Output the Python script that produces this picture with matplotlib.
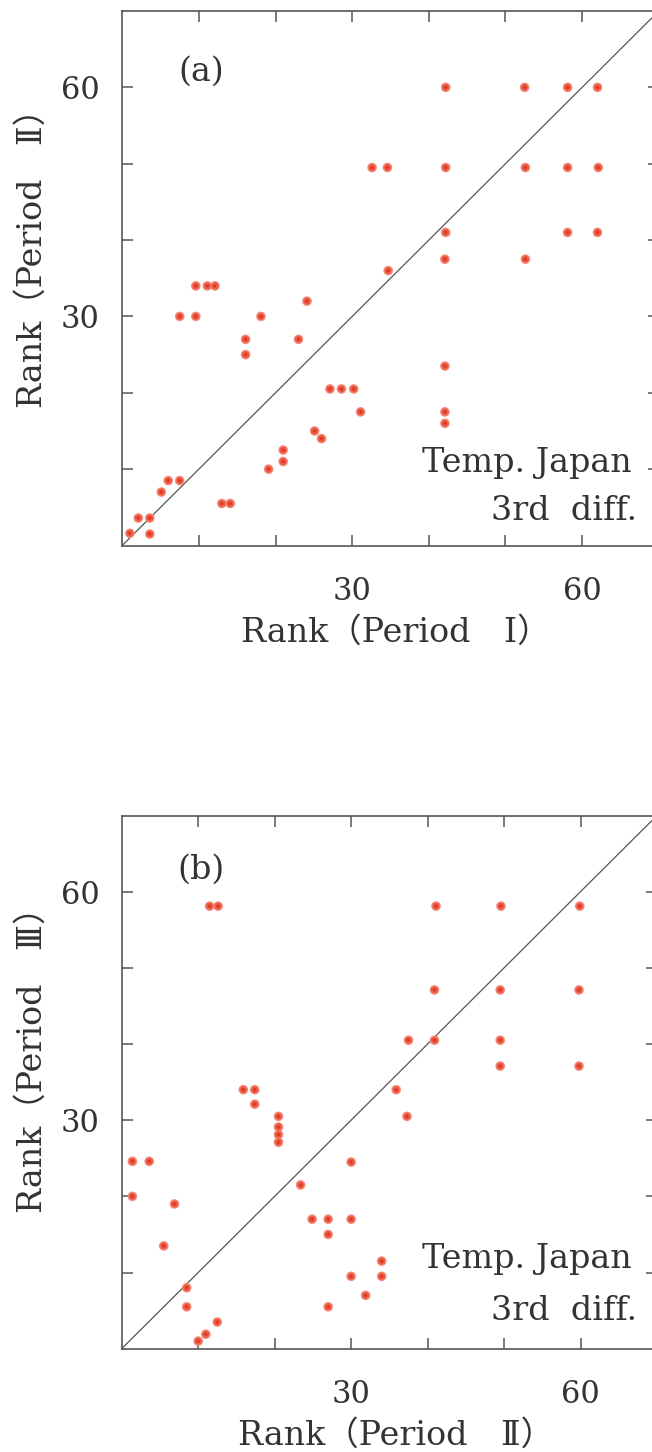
import matplotlib.pyplot as plt
import numpy as np

# panel (a): rank in period I vs period II
rank_a_x = [42.2, 52.5, 58.1, 62.0, 32.6, 34.6, 42.2, 52.6, 58.1, 62.1,
            42.2, 58.1, 62.0, 42.1, 52.6, 34.7, 9.6, 11.1, 12.1, 24.1,
            7.5, 9.6, 18.1, 16.1, 23.0, 16.1, 42.1, 27.1, 28.6, 30.2,
            31.1, 42.1, 42.1, 25.1, 26.0, 21.0, 21.0, 19.1, 6.0, 7.5,
            5.1, 13.0, 14.1, 2.1, 3.6, 1.0, 3.6]
rank_a_y = [60.0, 60.0, 60.0, 60.0, 49.5, 49.5, 49.5, 49.5, 49.5, 49.5,
            41.0, 41.0, 41.0, 37.5, 37.5, 36.0, 34.0, 34.0, 34.0, 32.0,
            30.0, 30.0, 30.0, 27.0, 27.0, 25.0, 23.5, 20.5, 20.5, 20.5,
            17.5, 17.5, 16.0, 15.0, 14.0, 12.5, 11.0, 10.0, 8.5, 8.5,
            7.0, 5.5, 5.5, 3.6, 3.6, 1.6, 1.5]

# panel (b): rank in period II vs period III
rank_b_x = [11.5, 12.6, 41.1, 49.6, 59.9, 40.9, 49.5, 59.8, 37.5, 40.9,
            49.5, 49.5, 59.8, 15.9, 17.4, 35.9, 17.4, 20.5, 37.3, 20.5,
            20.5, 20.5, 1.4, 3.6, 30.0, 23.4, 1.4, 6.9, 24.9, 27.0,
            30.0, 27.0, 5.5, 34.0, 30.0, 34.0, 31.9, 8.5, 8.5, 27.0,
            12.5, 11.0, 10.0]
rank_b_y = [58.1, 58.1, 58.1, 58.1, 58.1, 47.1, 47.1, 47.1, 40.5, 40.5,
            40.5, 37.1, 37.1, 34.0, 34.0, 34.0, 32.1, 30.5, 30.5, 29.1,
            28.1, 27.1, 24.6, 24.6, 24.5, 21.5, 20.0, 19.0, 17.0, 17.0,
            17.0, 15.0, 13.5, 11.5, 9.5, 9.5, 7.0, 8.0, 5.5, 5.5,
            3.5, 1.9, 1.0]

panels = [
    ('(a)', rank_a_x, rank_a_y, 'Rank（Period　Ⅰ）', 'Rank（Period　Ⅱ）'),
    ('(b)', rank_b_x, rank_b_y, 'Rank（Period　Ⅱ）', 'Rank（Period　Ⅲ）'),
]

ticks = [10, 20, 30, 40, 50, 60]
tick_labels = ['', '', '30', '', '', '60']

W, H = 652, 1452
fontfam = ['DejaVu Serif', 'Noto Sans CJK JP']
txtc = '#333333'
fs = 22
fs_txt = 24

fig = plt.figure(figsize=(W/100, H/100), dpi=100)

# axes boxes in pixels: left, top, bottom, and pixel rows of the texts
boxes = [(122.2, 11.0, 545.5, 72, 472, 520, 250),
         (121.7, 815.5, 1348.7, 870, 1268, 1320, 1052)]

for (tag, xs, ys, xlab, ylab), (left, top, bottom, tag_y, t1_y, t2_y, yl_y) in zip(panels, boxes):
    h = bottom - top
    w = h * (7.67 / 7.64)
    ax = fig.add_axes([left/W, 1 - bottom/H, w/W, h/H])
    for sp in ax.spines.values():
        sp.set_color('#555555')
        sp.set_linewidth(1.2)
        sp.set_clip_on(False)
    ax.set_xlim(0, 70)
    ax.set_ylim(0, 70)
    ax.plot([0, 70], [0, 70], '-', color='#555555', lw=0.9, zorder=1)
    ax.scatter(xs, ys, s=48, c='#f48d7c', edgecolors='none', zorder=3)
    ax.scatter(xs, ys, s=26, c='#ee5a44', edgecolors='none', zorder=4)
    ax.scatter(xs, ys, s=6, c='#d93a27', edgecolors='none', zorder=5)

    ax.set_xticks(ticks)
    ax.set_yticks(ticks)
    ax.set_xticklabels(tick_labels, family=fontfam, fontsize=fs, color=txtc)
    ax.set_yticklabels(tick_labels, family=fontfam, fontsize=fs, color=txtc)
    ax.tick_params(direction='in', length=8, width=1.1, color='#555555',
                   top=True, right=True, pad=16)
    ax.tick_params(axis='x', pad=22)

    ax.text((201 - left) / w, (bottom - tag_y) / h, tag, transform=ax.transAxes,
            ha='center', va='center', family=fontfam, fontsize=fs_txt, color=txtc)
    # station / method note, bottom right
    ax.text((632 - left) / w, (bottom - t1_y) / h, 'Temp. Japan',
            transform=ax.transAxes, ha='right', va='baseline',
            family=fontfam, fontsize=fs_txt, color=txtc)
    ax.text((637 - left) / w, (bottom - t2_y) / h, '3rd  diff.',
            transform=ax.transAxes, ha='right', va='baseline',
            family=fontfam, fontsize=fs_txt, color=txtc)

    fig.text(396/W, 1 - (bottom + 87)/H, xlab, ha='center', va='center',
             family=fontfam, fontsize=fs_txt, color=txtc)
    fig.text(33/W, 1 - yl_y/H, ylab, ha='center', va='center',
             rotation=90, family=fontfam, fontsize=fs_txt, color=txtc)

plt.savefig('out.png', dpi=100)
